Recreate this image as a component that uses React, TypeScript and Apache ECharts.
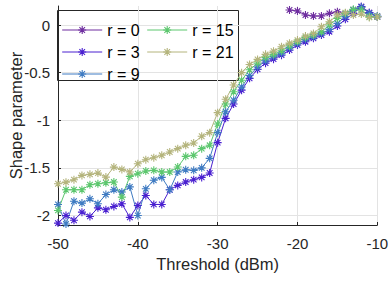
import React, { useEffect, useRef } from "react";
import * as echarts from "echarts";

const thresholds = [-50,-49,-48,-47,-46,-45,-44,-43,-42,-41,-40,-39,-38,-37,-36,-35,-34,-33,-32,-31,-30,-29,-28,-27,-26,-25,-24,-23,-22,-21,-20,-19,-18,-17,-16,-15,-14,-13,-12,-11,-10];

const r0 = [null,null,null,null,null,null,null,null,null,null,null,null,null,null,null,null,null,null,null,null,null,null,null,null,null,null,null,null,null,
  0.158,0.147,0.105,0.095,0.095,0.123,0.14,0.116,0.158,0.193,0.13,0.087];
const r3 = [-2.08,-2.0,-2.05,-1.965,-2.01,-1.92,-1.94,-1.905,-1.877,-2.02,-1.895,-1.79,-1.884,-1.884,-1.73,-1.684,-1.649,-1.624,-1.6,-1.554,-1.235,-0.98,-0.83,-0.684,-0.56,-0.466,-0.4,-0.358,-0.316,-0.263,-0.21,-0.175,-0.14,-0.105,-0.07,-0.01,0.06,0.123,0.193,0.13,0.087];
const r9 = [-1.884,-2.09,-1.85,-1.87,-1.825,-1.877,-1.78,-1.73,-1.754,-1.7,-2.0,-1.72,-1.63,-1.6,-1.73,-1.544,-1.52,-1.526,-1.5,-1.4,-1.13,-0.91,-0.79,-0.65,-0.53,-0.44,-0.376,-0.33,-0.3,-0.24,-0.193,-0.151,-0.123,-0.088,-0.046,0.018,0.088,0.158,0.186,0.123,0.095];
const r15 = [-1.947,-1.73,-1.73,-1.73,-1.677,-1.667,-1.656,-1.649,-1.807,-1.589,-1.561,-1.533,-1.526,-1.544,-1.544,-1.491,-1.379,-1.368,-1.298,-1.263,-1.04,-0.83,-0.7,-0.58,-0.47,-0.4,-0.34,-0.31,-0.27,-0.22,-0.175,-0.13,-0.105,-0.07,0.0,0.07,0.123,0.165,0.158,0.087,0.087];
const r21 = [-1.667,-1.65,-1.624,-1.579,-1.568,-1.555,-1.597,-1.492,-1.516,-1.544,-1.456,-1.414,-1.393,-1.368,-1.333,-1.298,-1.263,-1.239,-1.168,-1.13,-0.92,-0.78,-0.63,-0.5,-0.414,-0.361,-0.308,-0.274,-0.228,-0.19,-0.158,-0.116,-0.088,-0.018,0.035,0.105,0.13,0.105,0.116,0.08,0.087];

const seriesNames = ["r = 0", "r = 3", "r = 9", "r = 15", "r = 21"];
const seriesColors = ["#6e2d9f", "#4a20d0", "#3f7bc2", "#5cc76e", "#b4b47c"];
const yTicks = [-2, -1.5, -1, -0.5, 0];
const xTicks = [-50, -40, -30, -20, -10];

const STAR = "path://M5,0L5,10M0,5L10,5M1.5,1.5L8.5,8.5M1.5,8.5L8.5,1.5";
const FONT = "Liberation Sans, Arial, Helvetica, sans-serif";

export default function App() {
  const ref = useRef<HTMLDivElement>(null);
  useEffect(() => {
    if (!ref.current) return;
    document.body.style.margin = "0";
    const chart = echarts.init(ref.current, null, { renderer: "svg" });
    const all = [r0, r3, r9, r15, r21];
    const series = all.map((vals, i) => ({
      name: seriesNames[i],
      type: "line",
      data: thresholds.map((t, j) => [t, vals[j]]),
      connectNulls: false,
      clip: false,
      symbol: STAR,
      symbolSize: 8,
      showAllSymbol: true,
      color: seriesColors[i],
      lineStyle: { width: 1, color: seriesColors[i] },
      itemStyle: { color: seriesColors[i], borderColor: seriesColors[i], borderWidth: 1.1 },
      emphasis: { disabled: true },
    }));
    const legendCommon = {
      orient: "vertical",
      padding: 0,
      itemWidth: 40,
      itemHeight: 10,
      itemGap: 6,
      itemTextGap: 3,
      itemStyle: { borderWidth: 1.1 },
      lineStyle: { width: 1 },
      textStyle: { fontSize: 16, color: "#000", fontFamily: FONT, lineHeight: 16 },
      selectedMode: false,
    };
    chart.setOption({
      animation: false,
      textStyle: { fontFamily: FONT },
      grid: { left: 58, right: 12.7, top: 6, bottom: 56, containLabel: false, outerBoundsMode: "none" },
      xAxis: {
        type: "value",
        min: -50,
        max: -10,
        interval: 10,
        name: "Threshold (dBm)",
        nameLocation: "middle",
        nameGap: 30,
        nameMoveOverlap: false,
        nameTextStyle: { fontSize: 16.5, color: "#262626", fontFamily: FONT },
        axisLine: { show: true, onZero: false, lineStyle: { color: "#262626", width: 1 } },
        axisTick: { show: true, inside: true, length: 3, lineStyle: { color: "#262626" }, customValues: xTicks },
        axisLabel: { fontSize: 15, color: "#262626", margin: 11, fontFamily: FONT, customValues: xTicks },
        splitLine: { show: true, lineStyle: { color: "#e3e3e3", width: 1 } },
      },
      yAxis: {
        type: "value",
        min: -2.1,
        max: 0.2,
        name: "Shape parameter",
        nameLocation: "middle",
        nameGap: 34,
        nameMoveOverlap: false,
        nameTextStyle: { fontSize: 16.5, color: "#262626", fontFamily: FONT },
        axisLine: { show: true, onZero: false, lineStyle: { color: "#262626", width: 1 } },
        axisTick: { show: true, inside: true, length: 3, lineStyle: { color: "#262626" }, customValues: yTicks },
        axisLabel: { fontSize: 15, color: "#262626", margin: 8, fontFamily: FONT, customValues: yTicks },
        splitLine: { show: true, lineStyle: { color: "#e3e3e3", width: 1 } },
      },
      legend: [
        { ...legendCommon, left: 61.7, top: 22, data: seriesNames.slice(0, 3) },
        { ...legendCommon, left: 146.7, top: 22, data: seriesNames.slice(3) },
      ],
      graphic: [
        {
          type: "rect",
          z: 0,
          zlevel: 0,
          shape: { x: 57.5, y: 10.5, width: 181, height: 70 },
          style: { fill: "#fff", stroke: "#262626", lineWidth: 1 },
        },
      ],
      series,
    });
    return () => chart.dispose();
  }, []);
  return <div ref={ref} style={{ position: "absolute", left: 0, top: 0, width: 390, height: 281 }} />;
}
